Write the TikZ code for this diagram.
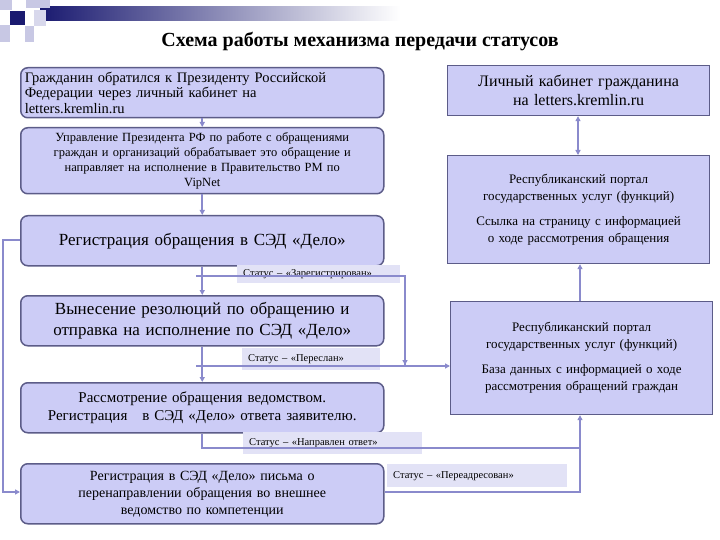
\documentclass[tikz,border=0pt]{standalone}
\usepackage{fontspec}
\setmainfont{Liberation Serif}
\usetikzlibrary{arrows.meta,calc}
\definecolor{bfill}{HTML}{CCCCF6}
\definecolor{bdraw}{HTML}{5C5C88}
\definecolor{conn}{HTML}{8A8ACC}
\definecolor{sfill}{HTML}{E2E2F6}
\definecolor{navy}{HTML}{1A1A70}
\definecolor{lsq}{HTML}{C8C8E4}
\begin{document}
\begin{tikzpicture}[x=1pt,y=-1pt,
 lbox/.style={draw=bdraw,line width=1.5pt,fill=bfill,rounded corners=7pt,anchor=north west,minimum width=363pt,align=center,inner sep=2pt,text width=355pt},
 rbox/.style={draw=bdraw,line width=1.2pt,fill=bfill,anchor=north west,minimum width=262pt,align=center,text width=255pt},
 stat/.style={fill=sfill,anchor=north west,font=\fontsize{10.5}{12}\selectfont,inner xsep=6pt,inner ysep=2pt,align=left},
 cn/.style={draw=conn,line width=1.6pt},
 ar/.style={cn,-{Triangle[length=5pt,width=5pt]}}]
\useasboundingbox (0,0) rectangle (720,540);
\fill[white] (0,0) rectangle (720,540);
% decoration
\shade[left color=navy,right color=white] (40,7) rectangle (400,21);
\fill[lsq] (0,0) rectangle (12,10);
\fill[lsq] (26,0) rectangle (50,8);
\fill[lsq] (0,25) rectangle (10,42);
\fill[lsq] (25,26) rectangle (34,42);
\fill[lsq!70] (34,10) rectangle (46,26);
\fill[navy] (10,11) rectangle (25,25);
\node[font=\bfseries\fontsize{20}{22}\selectfont] (title) at (360,42) {Схема работы механизма передачи статусов};
% left boxes
\node[lbox,minimum height=50pt,align=left,font=\fontsize{14.5}{15.5}\selectfont] (b1) at (20,67) {Гражданин обратился к Президенту Российской\\Федерации через личный кабинет на\\letters.kremlin.ru};
\node[lbox,minimum height=66pt,font=\fontsize{12.5}{15}\selectfont] (b2) at (20,127) {Управление Президента РФ по работе с обращениями\\граждан и организаций обрабатывает это обращение и\\направляет на исполнение в Правительство РМ по\\VipNet};
\node[lbox,minimum height=50pt,font=\fontsize{17}{19}\selectfont] (b3) at (20,215) {Регистрация обращения в СЭД «Дело»};
\node[lbox,minimum height=50pt,font=\fontsize{17}{21}\selectfont] (b4) at (20,295) {Вынесение резолюций по обращению и\\отправка на исполнение по СЭД «Дело»};
\node[lbox,minimum height=50pt,font=\fontsize{15}{18}\selectfont] (b5) at (20,382) {Рассмотрение обращения ведомством.\\Регистрация \ \ в СЭД «Дело» ответа заявителю.};
\node[lbox,minimum height=60pt,font=\fontsize{14}{17}\selectfont] (b6) at (20,463) {Регистрация в СЭД «Дело» письма о\\перенаправлении обращения во внешнее\\ведомство по компетенции};
% right boxes
\node[rbox,minimum height=50pt,font=\fontsize{16}{19}\selectfont] (r1) at (447,65) {Личный кабинет гражданина\\на letters.kremlin.ru};
\node[rbox,minimum height=108pt,font=\fontsize{13}{17}\selectfont] (r2) at (447,155) {Республиканский портал\\государственных услуг (функций)\\[8pt]Ссылка на страницу с информацией\\о ходе рассмотрения обращения};
\node[rbox,minimum height=113pt,font=\fontsize{13}{17}\selectfont] (r3) at (450,301) {Республиканский портал\\государственных услуг (функций)\\[8pt]База данных с информацией о ходе\\рассмотрения обращений граждан};
% status labels
\node[stat,text width=151pt,minimum height=18pt] (s1) at (237,265) {Статус – «Зарегистрирован»};
\node[stat,text width=126pt,minimum height=22pt] (s2) at (242,348) {Статус – «Переслан»};
\node[stat,text width=167pt,minimum height=22pt] (s3) at (243,432) {Статус – «Направлен ответ»};
\node[stat,text width=168pt,minimum height=23pt] (s4) at (387,464) {Статус – «Переадресован»};
% connectors
\draw[ar] (b1.south) -- (b2.north);
\draw[ar] (b2.south) -- (b3.north);
\draw[ar] (b3.south) -- (b4.north);
\draw[ar] (b4.south) -- (b5.north);
\coordinate (k1) at (405,276);
\coordinate (k2) at (405,366);
\coordinate (k3) at (580,448);
\coordinate (k4) at (580,492);
\coordinate (lft) at (3,240);
\draw[cn] (196,276) -- (k1) -- (k2);
\draw[ar] (196,366) -- (k2 -| r3.west);
\draw[ar] (k1) -- ($(k2)+(0,-1)$);
\draw[ar] (b5.south) |- (k3) -- (k3 |- r3.south);
\draw[cn] (b6.east |- k4) -- (k4) -- (k3);
\draw[ar] (b3.west |- lft) -- (lft) |- (b6.west |- k4);
\draw[ar] (r3.north -| 580,0) -- (r2.south -| 580,0);
\draw[cn,{Triangle[length=5pt,width=5pt]}-{Triangle[length=5pt,width=5pt]}] (r2.north -| 578,0) -- (r1.south -| 578,0);
\end{tikzpicture}
\end{document}
